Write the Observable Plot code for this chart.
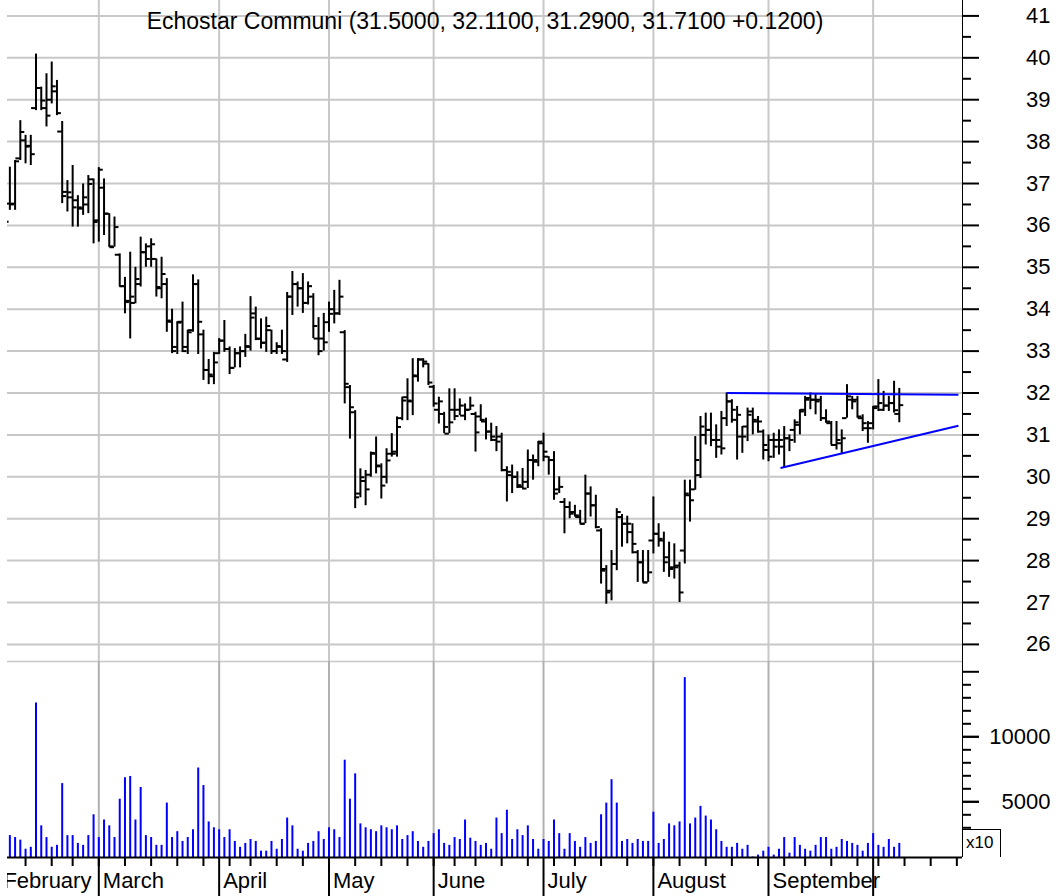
<!DOCTYPE html>
<html>
<head>
<meta charset="utf-8">
<script src="https://cdn.jsdelivr.net/npm/d3@7"></script>
<script src="https://cdn.jsdelivr.net/npm/@observablehq/plot@0.6"></script>
<style>
  html, body { margin: 0; padding: 0; background: #fff; }
  #wrap { position: absolute; left: 0; top: 0; width: 1058px; height: 896px; overflow: hidden; font-family: "Liberation Sans", Arial, sans-serif; }
  #clip { position: absolute; left: 7px; top: 0; width: 1051px; height: 896px; overflow: hidden; }
  #inner { position: absolute; left: -7px; top: 0; width: 1058px; height: 896px; }
  #price { position: absolute; left: 0; top: 0; }
  #vol { position: absolute; left: 0; top: 655px; }
  #x10 { position: absolute; left: 962px; top: 829px; width: 39px; height: 28px; box-sizing: border-box;
         border-top: 1.5px solid #000; border-right: 1.5px solid #000; border-left: 1px solid #000;
         background: #fff; font-size: 17px; line-height: 25px; padding-left: 3px; color: #000; }
</style>
</head>
<body>
<div id="wrap">
  <div id="clip"><div id="inner"><div id="price"></div><div id="vol"></div></div></div>
  <div id="x10">x10</div>
</div>
<script>
// ---------------- data (trading days from 2004-02-03 to 2004-10-08) ----------------
const stockName = "Echostar Communi";
const prevClose = 31.59;

const open = [
  36.3,36.52,36.52,37.6,38.03,37.9,38.8,39.28,38.8,39.0,39.2,38.24,36.8,36.67,36.6,36.4,36.5,37.1,
  36.12,36.9,36.28,35.48,35.3,34.55,34.2,34.15,34.6,35.36,35.5,35.2,34.5,34.6,33.7,33.1,33.7,33.1,33.5,34.6,33.4,32.55,32.4,
  32.95,33.25,33.05,32.6,32.95,33.0,33.1,33.9,33.3,33.2,33.5,33.0,33.1,32.8,34.3,34.6,34.5,34.15,34.3,33.3,33.3,
  33.69,34.0,33.9,33.45,32.14,31.54,29.6,29.9,30.05,30.55,30.25,30.0,30.55,30.6,31.4,31.9,31.8,32.4,32.8,32.7,
  32.15,31.6,31.5,31.03,31.6,31.6,31.46,31.6,31.5,31.44,31.32,31.08,30.88,30.96,30.16,30.04,30.0,29.76,29.88,30.4,30.36,
  30.8,30.48,30.4,29.7,29.4,29.28,29.16,29.04,28.88,29.6,29.32,28.72,27.8,27.28,27.92,29.04,28.88,28.68,28.2,27.96,27.48,
  28.48,28.64,28.48,28.08,27.84,27.88,28.24,29.56,29.7,30.04,31.0,31.12,30.88,30.72,31.4,31.8,31.36,30.96,31.2,31.56,31.32,31.08,
  30.64,30.88,30.88,30.72,30.92,31.12,31.24,31.6,31.88,31.84,31.84,31.4,31.28,30.76,30.8,31.4,31.84,31.84,31.4,31.16,
  31.28,31.68,31.6,31.7,31.76,31.50
];
const high = [
  36.7,37.39,37.55,38.5,38.15,38.15,40.09,39.3,39.62,39.9,39.46,38.48,37.07,37.43,36.71,36.99,37.19,37.11,
  37.38,37.11,36.28,36.2,35.32,34.76,35.36,35.0,35.72,35.56,35.68,35.2,35.24,34.73,34.0,33.7,34.17,33.5,34.82,34.7,33.5,32.8,32.97,
  33.3,33.73,33.1,33.06,33.1,33.4,34.3,34.05,33.77,33.81,33.5,33.2,33.5,34.4,34.9,34.65,34.85,34.65,34.37,33.8,33.9,
  34.17,34.45,34.69,33.49,32.18,31.58,30.19,30.15,30.59,30.95,30.31,30.67,31.03,31.43,31.9,32.34,32.82,32.82,32.82,32.7,
  32.18,31.9,31.54,32.1,32.1,31.86,31.74,31.9,31.54,31.72,31.4,31.28,31.2,31.04,30.24,30.28,30.12,30.2,30.64,30.52,30.84,
  31.04,30.48,30.6,30.0,29.48,29.4,29.32,29.2,30.04,29.76,29.56,28.76,27.88,28.24,29.24,29.1,29.06,28.88,28.24,28.24,28.24,
  29.52,28.88,28.68,28.44,28.4,27.96,29.92,29.92,30.96,31.44,31.52,31.52,31.24,31.56,32.0,31.84,31.68,31.2,31.64,31.64,31.44,31.12,
  31.0,31.04,31.12,31.2,31.0,31.36,31.6,31.92,32.0,31.96,31.92,31.6,31.32,31.32,31.12,32.2,31.92,31.92,31.48,31.32,
  31.68,32.32,32.04,31.92,32.28,32.11
];
const low = [
  35.9,36.36,36.36,37.55,37.47,37.43,38.74,38.74,38.35,38.9,38.62,36.52,36.32,35.96,35.96,36.24,36.28,35.56,
  35.6,35.76,35.48,35.48,34.53,33.89,33.29,34.13,34.53,35.0,35.0,34.29,34.25,33.45,32.94,32.92,32.97,32.92,33.45,32.92,32.3,32.2,32.2,
  32.92,32.97,32.44,32.6,32.6,32.85,33.0,33.25,33.05,32.97,32.92,32.92,32.92,32.73,33.85,34.05,33.9,34.1,33.3,32.89,33.0,
  33.45,33.65,33.85,31.74,30.9,29.24,29.5,29.31,29.99,30.07,29.47,29.83,30.47,30.47,31.34,31.34,31.46,32.26,32.6,32.18,
  31.66,31.26,31.03,31.03,31.34,31.46,31.34,31.58,30.59,31.32,30.88,30.84,30.6,30.12,29.4,29.6,29.72,29.72,29.72,29.92,30.24,
  30.36,30.04,29.44,29.6,28.64,29.0,29.04,28.88,28.88,29.04,28.76,27.44,26.96,27.04,27.76,28.32,28.4,28.16,27.48,27.48,27.48,
  28.16,28.32,27.72,27.6,27.56,27.0,27.92,28.92,29.68,29.96,30.76,30.72,30.44,30.52,31.2,31.28,30.4,30.56,30.84,31.0,31.04,30.4,
  30.36,30.44,30.52,30.22,30.6,30.8,31.0,31.44,31.6,31.48,31.32,31.28,30.76,30.64,30.56,31.4,31.6,31.4,31.08,30.8,
  31.12,31.56,31.56,31.56,31.52,31.29
];
const close = [
  36.09,36.5,37.53,38.23,37.88,37.7,39.28,38.98,38.62,39.32,38.68,36.7,36.79,36.43,36.43,36.67,36.99,36.08,
  37.33,36.28,35.5,35.96,34.55,34.17,34.3,34.72,35.36,35.2,35.55,34.53,34.84,33.73,33.0,33.68,33.0,33.45,34.6,33.7,32.55,32.44,32.73,
  33.25,33.05,32.6,32.95,33.0,33.12,33.8,33.29,33.2,33.6,33.0,33.12,33.0,34.3,34.6,34.5,34.15,34.55,33.6,33.0,33.21,
  33.89,33.9,34.3,32.22,31.66,29.51,29.99,29.7,30.57,30.27,29.79,30.39,30.55,31.19,31.82,31.82,32.42,32.8,32.75,32.25,
  31.75,31.8,31.19,31.3,31.45,31.7,31.6,31.7,31.06,31.36,31.08,30.96,30.84,30.16,30.12,30.0,29.8,29.72,30.4,30.4,30.84,
  30.6,30.4,29.6,29.76,29.28,29.12,29.08,28.88,29.6,29.32,28.8,27.76,27.24,27.92,29.16,28.88,28.88,28.4,27.96,27.48,27.72,
  28.64,28.52,27.96,27.8,27.84,27.24,29.6,29.44,30.4,31.2,31.12,30.88,30.88,30.68,31.8,31.6,31.48,30.96,31.48,31.36,31.32,30.76,
  30.48,30.72,30.88,30.92,30.88,31.3,31.56,31.84,31.84,31.8,31.4,31.32,30.76,30.88,30.92,31.92,31.8,31.44,31.28,31.16,
  31.64,31.76,31.7,31.76,31.59,31.71
];
// volume in the chart's "x10" units
const volume = [
  2000,2400,2250,2050,1350,1500,12600,3150,2250,1500,1650,6400,2400,2400,1800,1650,2400,4000,
  2250,3600,3150,2250,5200,6850,6950,3600,6100,2400,2250,1650,1650,4900,2250,2700,1950,2250,2850,7600,6250,3450,3000,
  2850,2250,2850,1950,1500,1800,2100,1950,1200,1200,1950,1350,2100,3750,3150,1350,1200,1800,1950,2700,2100,
  3000,2850,2250,8200,5200,7150,3300,3000,2850,2700,3150,3000,2850,3150,2100,2400,2700,1950,1500,1950,
  2550,2850,1800,1650,2250,2100,3600,2200,1950,1650,1800,1350,3750,2550,4350,2100,2850,2400,3150,2100,1350,
  2100,1950,3600,2550,1350,2550,1950,1500,2250,1800,1950,4000,4900,6700,4900,1950,2100,1800,2100,1950,1950,
  4200,1800,2100,3300,3150,3450,14550,3300,3750,4650,3900,3600,2850,1950,1500,1500,1800,1350,1650,750,900,1200,
  1500,900,1350,2250,1050,2250,1650,1350,1200,1650,2250,2250,1350,1500,2100,1950,1800,1650,1200,1800,
  2550,1650,1500,2100,1500,1800
];
const firstDataIndex = 1;           // data starts on the 2nd trading day (Feb 3)

const calendarStart = "2004-02-02", calendarEnd = "2004-10-29";
const closedDays = ["2004-02-16","2004-04-09","2004-05-31","2004-06-11","2004-07-05","2004-09-06","2004-09-29"];
const monthLabels = ["February","March","April","May","June","July","August","September"];

// trend lines: [index, price] endpoints
const trendlines = [
  {x1: 139, y1: 32.00, x2: 183.3, y2: 31.96},
  {x1: 149.3, y1: 30.21, x2: 183.3, y2: 31.22}
];

const priceGrid = d3.range(26, 42);
const priceMinor = d3.range(26.5, 41, 1);
const volMajor = [5000, 10000, 15000];
const volLabels = [5000, 10000];
const volMinor = d3.range(1000, 15000, 1000).filter(v => v % 5000 !== 0);

// ---------------- trading calendar ----------------
const fmt = d3.utcFormat("%Y-%m-%d");
const closed = new Set(closedDays);
const tradingDays = d3.utcDays(new Date(calendarStart), d3.utcDay.offset(new Date(calendarEnd), 1))
  .filter(d => d.getUTCDay() !== 0 && d.getUTCDay() !== 6 && !closed.has(fmt(d)));
const monthStarts = [], weekStarts = [];
tradingDays.forEach((d, i) => {
  const p = tradingDays[i - 1];
  if (!p || p.getUTCMonth() !== d.getUTCMonth()) monthStarts.push(i);
  if (!p || +d3.utcMonday.floor(p) !== +d3.utcMonday.floor(d)) weekStarts.push(i);
});
const monthLabelOf = new Map(monthStarts.slice(0, monthLabels.length).map((m, k) => [m, monthLabels[k]]));

const bars = open.map((o, k) => ({i: k + firstDataIndex, open: o, high: high[k], low: low[k], close: close[k], volume: volume[k]}));
const last = bars[bars.length - 1];
const chg = last.close - prevClose;
const title = `${stockName} (${last.open.toFixed(4)}, ${last.high.toFixed(4)}, ${last.low.toFixed(4)}, ${last.close.toFixed(4)} ${chg >= 0 ? "+" : ""}${chg.toFixed(4)})`;

// ---------------- layout ----------------
const X_DOMAIN = [1.548, 184.08];
const TICK = 0.85;
const font = "'Liberation Sans', Arial, sans-serif";
const style = {fontFamily: font, fontSize: "22px", color: "#000", overflow: "visible"};
const plain = d => String(d);

const price = Plot.plot({
  width: 1058, height: 661,
  marginLeft: 7, marginRight: 96, marginTop: 0, marginBottom: 0,
  x: {domain: X_DOMAIN, axis: null},
  y: {domain: [25.592, 41.368], axis: null},
  style,
  marks: [
    Plot.ruleY(priceGrid, {stroke: "#c8c8c8", strokeWidth: 2}),
    Plot.ruleX(monthStarts, {stroke: "#c8c8c8", strokeWidth: 2}),
    Plot.ruleX(bars, {x: "i", y1: "low", y2: "high", stroke: "#000", strokeWidth: 2}),
    Plot.ruleY(bars, {y: "open", x1: d => d.i - TICK, x2: "i", stroke: "#000", strokeWidth: 2}),
    Plot.ruleY(bars, {y: "close", x1: "i", x2: d => d.i + TICK, stroke: "#000", strokeWidth: 2}),
    Plot.link(trendlines, {x1: "x1", y1: "y1", x2: "x2", y2: "y2", stroke: "#0000ff", strokeWidth: 2}),
    Plot.ruleX([X_DOMAIN[1]], {stroke: "#000", strokeWidth: 1}),
    Plot.axisY(priceGrid, {anchor: "right", label: null, tickSize: 16, tickPadding: 72, textAnchor: "end", fontSize: 22, strokeWidth: 2, tickFormat: plain}),
    Plot.axisY(priceMinor, {anchor: "right", label: null, tickSize: 8, tickFormat: () => "", strokeWidth: 2}),
    Plot.text([title], {frameAnchor: "top", lineAnchor: "bottom", dy: 28, fontSize: 23, fill: "#000"})
  ]
});
document.getElementById("price").appendChild(price);

const VOL_DOMAIN = [715, 15792];
const vol = Plot.plot({
  width: 1058, height: 241,
  marginLeft: 7, marginRight: 96, marginTop: 6, marginBottom: 39,
  x: {domain: X_DOMAIN, axis: null},
  y: {domain: VOL_DOMAIN, axis: null},
  style,
  marks: [
    Plot.ruleY([VOL_DOMAIN[1]], {stroke: "#c8c8c8", strokeWidth: 1.5}),
    Plot.ruleX(monthStarts, {stroke: "#b0b0b0", strokeWidth: 2}),
    Plot.ruleX(bars, {x: "i", y1: VOL_DOMAIN[0], y2: "volume", stroke: "#0000ff", strokeWidth: 2}),
    Plot.ruleY([VOL_DOMAIN[0]], {stroke: "#000", strokeWidth: 2}),
    Plot.ruleX([X_DOMAIN[1]], {stroke: "#000", strokeWidth: 1}),
    Plot.axisX(monthStarts, {anchor: "bottom", label: null, tickSize: 39, tickFormat: () => "", strokeWidth: 2}),
    Plot.axisX(weekStarts, {anchor: "bottom", label: null, tickSize: 9, tickFormat: () => "", strokeWidth: 2}),
    Plot.axisX([...monthLabelOf.keys()], {anchor: "bottom", label: null, tickSize: 0, tickPadding: 15, textAnchor: "start", dx: 4,
      tickFormat: d => monthLabelOf.get(d), fontSize: 22}),
    Plot.axisY(volMajor, {anchor: "right", label: null, tickSize: 16, tickFormat: () => "", strokeWidth: 2}),
    Plot.axisY(volMinor, {anchor: "right", label: null, tickSize: 8, tickFormat: () => "", strokeWidth: 2}),
    Plot.axisY(volLabels, {anchor: "right", label: null, tickSize: 16, tickPadding: 72, textAnchor: "end", fontSize: 22, strokeWidth: 2, tickFormat: plain})
  ]
});
document.getElementById("vol").appendChild(vol);
</script>
</body>
</html>
